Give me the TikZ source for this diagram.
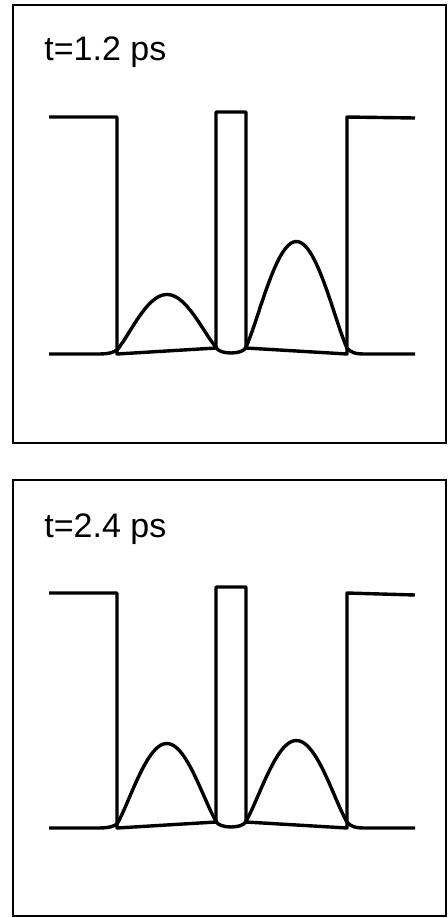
\documentclass[tikz,border=0pt]{standalone}
\usepackage{fontspec}
\newfontfamily\lblfont{Liberation Sans}
\begin{document}
\begin{tikzpicture}[x=0.5pt,y=-0.5pt,
  frame/.style={draw=black, line width=1pt},
  pot/.style={draw=black, line width=1.7pt, line join=round},
  wave/.style={draw=black, line width=1.7pt, line join=round},
  lbl/.style={anchor=base west, inner sep=0pt, font=\lblfont\fontsize{17pt}{20pt}\selectfont}]
\useasboundingbox (0,0) rectangle (448,918);
\fill[white] (0,0) rectangle (448,918);
% ---------- panel 1 ----------
\begin{scope}
\draw[frame] (13,5) rectangle (446,443);
\node[lbl] (t1) at (44,60) {t=1.2 ps};
\draw[pot] (49,117) -- (117,117) -- (117,354) -- (216,348) -- (216,112) -- (246,112) -- (246,348) -- (347,354) -- (347,117) -- (415,118);
\draw[wave] (49,354) -- (98,354) .. controls (110,354) and (114,352) .. (117,350)
  -- plot[domain=0:1, samples=50] ({117+99*\x}, {350-3*\x-54*pow(abs(sin(180*\x)),1.15)})
  .. controls (218,355) and (244,355) .. (246,347)
  -- plot[domain=0:1, samples=50] ({246+101*\x}, {347+1*\x-106*pow(abs(sin(180*\x)),1.15)})
  .. controls (351,353) and (356,354) .. (366,354) -- (415,354);
\end{scope}
% ---------- panel 2 ----------
\begin{scope}[shift={(0,474)}]
\draw[frame] (13,6) rectangle (446,442);
\node[lbl] (t2) at (44,63) {t=2.4 ps};
\draw[pot] (49,119) -- (117,119) -- (117,354) -- (216,348) -- (216,113) -- (246,113) -- (246,348) -- (347,354) -- (347,119) -- (415,121);
\draw[wave] (49,354) -- (98,354) .. controls (110,354) and (114,352) .. (117,350)
  -- plot[domain=0:1, samples=50] ({117+99*\x}, {350-3*\x-79*pow(abs(sin(180*\x)),1.15)})
  .. controls (218,355) and (244,355) .. (246,347)
  -- plot[domain=0:1, samples=50] ({246+101*\x}, {347+1*\x-81*pow(abs(sin(180*\x)),1.15)})
  .. controls (351,353) and (356,354) .. (366,354) -- (415,354);
\end{scope}
\end{tikzpicture}
\end{document}
